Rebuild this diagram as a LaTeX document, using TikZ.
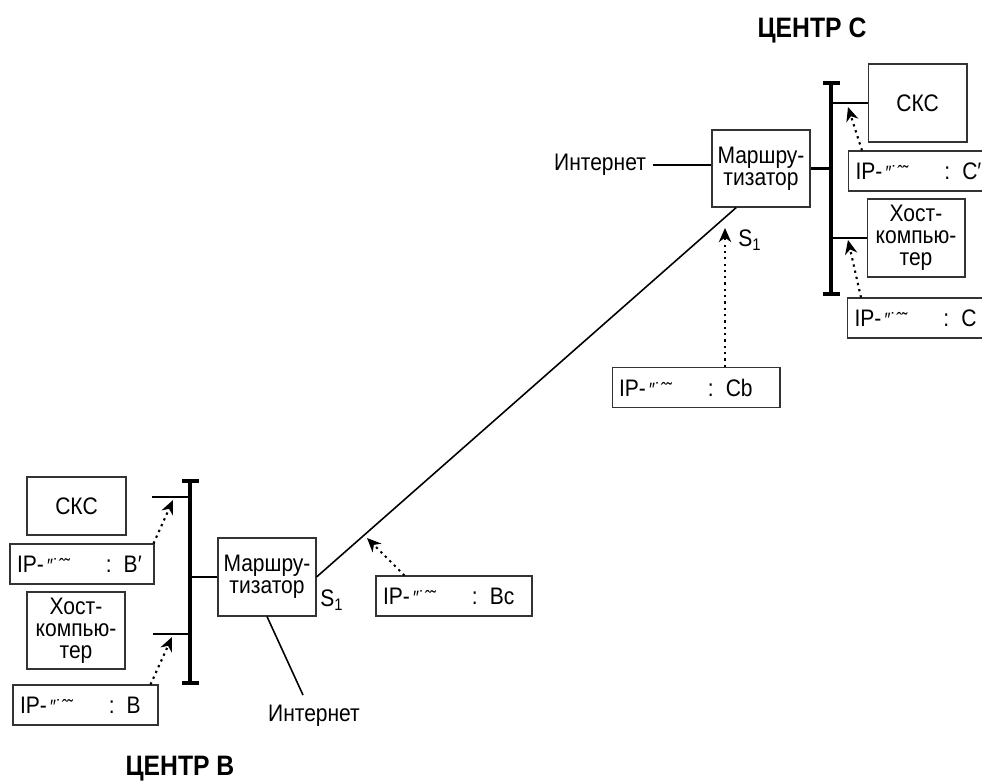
\documentclass[tikz,border=0pt]{standalone}
\usepackage{fontspec}
\setmainfont{Liberation Sans}[FakeStretch=0.88]
\usepackage{tikz}
\usetikzlibrary{arrows.meta, calc}
\newcommand{\ipname}[1]{IP-{\fontsize{11}{11}\selectfont\,″˙ˆ˜}\hspace{1.5em}: #1}
\newcommand{\netfont}{\fontsize{13.6}{12.5}\selectfont}

\begin{document}
\begin{tikzpicture}[x=0.02cm, y=-0.02cm, style={line cap=butt},
		box/.style={draw=black!80, line width=0.6pt, inner sep=0pt, align=center, font=\netfont},
		ipbox/.style={box, minimum height=0.8cm, inner xsep=0.14cm, align=left, text width=#1},
		lbl/.style={inner sep=2pt, font=\netfont},
		title/.style={inner sep=0pt, font=\fontsize{16}{16}\selectfont\bfseries},
		bus/.style={line width=1.8pt},
		tap/.style={line width=1.2pt},
		link/.style={line width=0.9pt},
		addr/.style={line width=1.2pt, dash pattern=on 1.3pt off 2.3pt, -{Stealth[length=8pt, width=7pt, inset=2.5pt]}}]
	\useasboundingbox (0,0) rectangle (982,782);
	\netfont
	\node[box, minimum width=1.98cm, minimum height=1.16cm] (sksB) at (76.5,506) {СКС};
	\node[ipbox=2.6cm] (ipBp) at (82,564) {\ipname{B′}};
	\node[box, minimum width=1.96cm, minimum height=1.54cm] (hostB) at (76,630.5) {Хост-\\компью-\\тер};
	\node[ipbox=2.62cm] (ipB) at (85.5,705) {\ipname{B}};
	\node[box, minimum width=1.96cm, minimum height=1.56cm] (routerB) at (267,577) {Маршру-\\тизатор};
	\node[ipbox=2.84cm] (ipBc) at (454,596) {\ipname{Bc}};
	\node[lbl] (sB) at (332,600) {S\textsubscript{1}};
	\node[lbl] (netB) at (314,716) {Интернет};
	\node[title] (titleB) at (180,769) {ЦЕНТР В};
	\coordinate (busBtop) at (190,481);
	\coordinate (busBbot) at (190,683);
	\coordinate (tapSksB) at (152,497);
	\coordinate (tapHostB) at (153,634);
	\coordinate (netBend) at (303,695);
	\draw[bus] (busBtop) -- (busBbot);
	\draw[bus] ($(busBtop)+(-8,0)$) -- ++(17,0);
	\draw[bus] ($(busBbot)+(-8,0)$) -- ++(17,0);
	\draw[tap] (tapSksB) -- (tapSksB -| busBtop);
	\draw[tap] (tapHostB) -- (tapHostB -| busBtop);
	\draw[tap] (routerB.west -| busBtop) -- (routerB.west);
	\draw[addr] ($(ipBp.north east)+(-1,0)$) -- (173,500);
	\draw[addr] ($(ipB.north east)+(-8,0)$) -- (172,637);
	\draw[addr] ($(ipBc.north west)+(29,0)$) -- (367,538);
	\draw[link] (routerB.south) -- (netBend);

	\node[box, minimum width=1.98cm, minimum height=1.56cm] (sksC) at (917.5,103) {СКС};
	\node[ipbox=2.62cm] (ipCp) at (921,171) {\ipname{C′}};
	\node[box, minimum width=1.96cm, minimum height=1.56cm] (hostC) at (916,238) {Хост-\\компью-\\тер};
	\node[ipbox=2.62cm] (ipC) at (920,318) {\ipname{C}};
	\node[box, minimum width=1.96cm, minimum height=1.54cm] (routerC) at (761,168.5) {Маршру-\\тизатор};
	\node[ipbox=3.08cm] (ipCb) at (696,387.5) {\ipname{Cb}};
	\node[lbl] (sC) at (750,240) {S\textsubscript{1}};
	\node[lbl] (netC) at (600,165) {Интернет};
	\node[title] (titleC) at (812,30) {ЦЕНТР С};
	\coordinate (busCtop) at (831,83);
	\coordinate (busCbot) at (831,294);
	\draw[bus] (busCtop) -- (busCbot);
	\draw[bus] ($(busCtop)+(-8,0)$) -- ++(17,0);
	\draw[bus] ($(busCbot)+(-8,0)$) -- ++(17,0);
	\draw[tap] (sksC.west -| busCtop) -- (sksC.west);
	\draw[tap] (hostC.west -| busCtop) -- (hostC.west);
	\draw[tap] (routerC.east) -- (routerC.east -| busCtop);
	\draw[link, shorten <=2pt] (netC.east) -- (netC.east -| routerC.west);
	\draw[addr] ($(ipCp.north west)+(14,0)$) -- (848,107);
	\draw[addr] ($(ipC.north west)+(14,0)$) -- (848,240);
	\draw[addr] ($(ipCb.north)+(29,0)$) -- (725,228);

	\draw[link] (routerB.east) -- ($(routerC.south west)!0.25!(routerC.south east)$);
\end{tikzpicture}
\end{document}
